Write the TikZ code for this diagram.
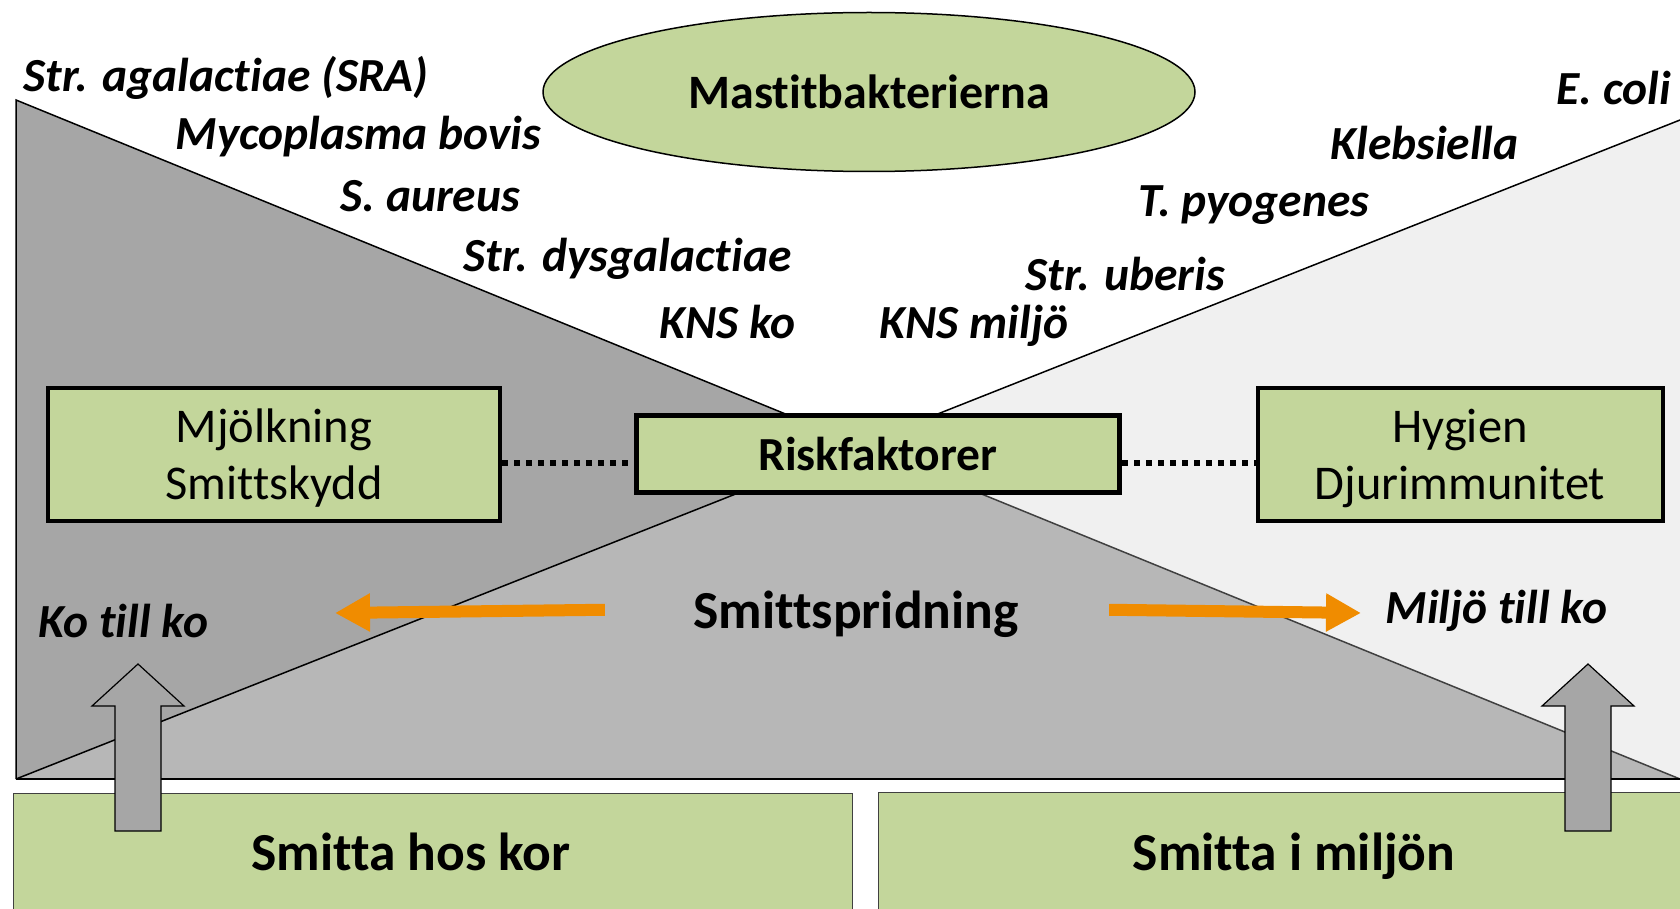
\documentclass[tikz,border=0pt]{standalone}
\usepackage{fontspec}
\setmainfont{Carlito}[Ligatures=NoCommon]
\usetikzlibrary{shapes.geometric,arrows.meta}

\definecolor{boxgreen}{HTML}{C3D69B}
\definecolor{cowgray}{HTML}{A6A6A6}
\definecolor{mixgray}{HTML}{B7B7B7}
\definecolor{envgray}{HTML}{F0F0F0}
\definecolor{spreadorange}{HTML}{F08C00}

\begin{document}
\begin{tikzpicture}[x=1pt,y=-1pt,
                    bact/.style={anchor=base west,font=\fontsize{47.5}{50}\selectfont\bfseries\itshape},
                    factorbox/.style={draw,line width=4pt,fill=boxgreen,align=center,inner sep=0pt,
                                      font=\fontsize{48.5}{57}\selectfont},
                    sourcebox/.style={draw=black!75,line width=1pt,fill=boxgreen,anchor=north west,minimum height=140pt},
                    bigtext/.style={anchor=base,font=\fontsize{53.5}{56}\selectfont\bfseries},
                    spread/.style={line width=12pt,draw=spreadorange,-{Triangle[length=35pt,width=36pt]}},
                    uparrow/.style={draw,line width=1.2pt,fill=cowgray},
                    dotline/.style={line width=6pt,dash pattern=on 6pt off 6pt}
]
\useasboundingbox (0,0) rectangle (1680,909);
\clip (0,0) rectangle (1680,909);

\coordinate (tl) at (16,100);
\coordinate (bl) at (16,779);
\coordinate (br) at (1680,779);
\coordinate (tr) at (1680,120);
\coordinate (mid) at (intersection of tl--br and bl--tr);
%
\fill[cowgray] (tl) -- (bl) -- (br) -- cycle;
\fill[envgray] (tr) -- (br) -- (bl) -- cycle;
\fill[mixgray] (bl) -- (br) -- (mid) -- cycle;
\draw[line width=1.5pt] (bl) -- (tl) -- (mid);
\draw[line width=1.5pt,black!75] (mid) -- (br);
\draw[line width=1.5pt] (bl) -- (tr);
\draw[line width=2pt] (bl) -- (br);
%
\node[sourcebox,minimum width=839pt] (kor) at (13,793) {};
\node[sourcebox,minimum width=840pt] (miljo) at (878,792) {};
\node[bigtext] (korlabel) at (411,870) {Smitta hos kor};
\node[bigtext] (miljolabel) at (1294,870) {Smitta i miljön};
%
\node[draw,line width=1.5pt,fill=boxgreen,ellipse,minimum width=652pt,minimum height=159pt,
      font=\fontsize{48}{50}\selectfont\bfseries] (mastit) at (869,92) {Mastitbakterierna};
%
\node[factorbox,minimum width=452pt,minimum height=133pt,text height=99pt] (mjolk) at (274,454) {Mjölkning\\Smittskydd};
\node[factorbox,line width=5pt,minimum width=483pt,minimum height=77pt,
      font=\fontsize{47.5}{50}\selectfont\bfseries] (risk) at (878,454) {Riskfaktorer};
\node[factorbox,minimum width=405pt,minimum height=133pt,text height=99pt] (hyg) at (1460,454) {Hygien\\Djurimmunitet};
\draw[dotline] ([yshift=-9pt]mjolk.east) -- ([yshift=-9pt]risk.west);
\draw[dotline] ([yshift=-9pt]risk.east) -- ([yshift=-9pt]hyg.west);
%
\node[bact] (agal) at (20,92) {Str. agalactiae (SRA)};
\node[bact] (myco) at (172,150) {Mycoplasma bovis};
\node[bact] (aureus) at (337,212) {S. aureus};
\node[bact] (dysg) at (460,272) {Str. dysgalactiae};
\node[bact] (knsko) at (656,338) {KNS ko};
\node[bact] (knsmiljo) at (876,338) {KNS miljö};
\node[bact] (uberis) at (1022,290) {Str. uberis};
\node[bact] (pyog) at (1135,217) {T. pyogenes};
\node[bact] (kleb) at (1327,160) {Klebsiella};
\node[bact] (ecoli) at (1553,105) {E. coli};
%
\node[bigtext] (sprid) at (856,628) {Smittspridning};
\node[bact] (kotillko) at (35,637) {Ko till ko};
\node[bact] (miljotillko) at (1382,623) {Miljö till ko};
\coordinate (kotip) at (335,613);
\coordinate (miljotip) at (1361,613);
\draw[spread] ([shift={(-85,-4)}]sprid.west) -- (kotip);
\draw[spread] ([shift={(87,-4)}]sprid.east) -- (miljotip);
%
\foreach \x in {138,1588}
  \draw[uparrow] ({\x-23},831) -- ({\x-23},706) -- ({\x-46},706) -- (\x,664)
                 -- ({\x+46},706) -- ({\x+23},706) -- ({\x+23},831) -- cycle;
\end{tikzpicture}
\end{document}
